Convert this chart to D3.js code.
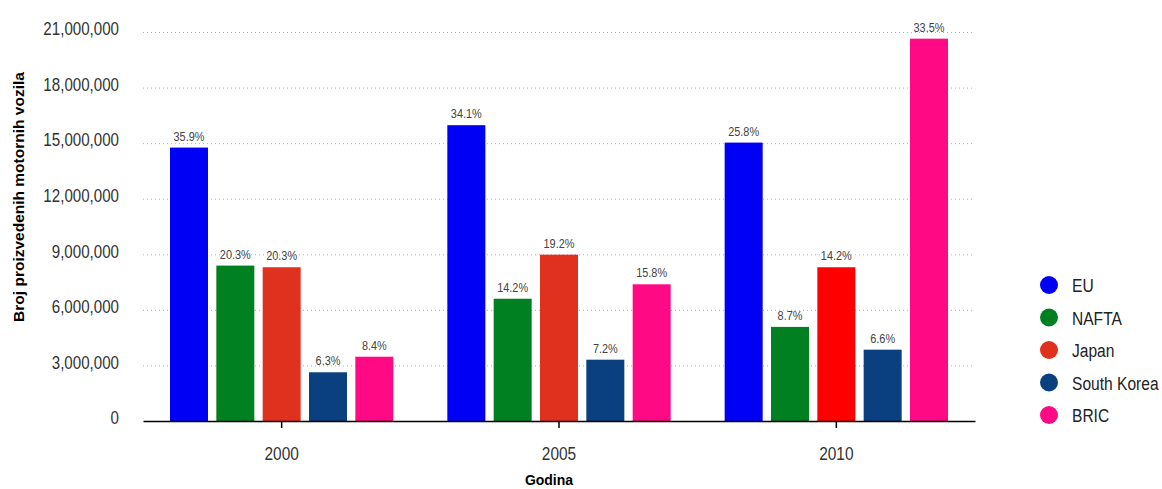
<!DOCTYPE html>
<html>
<head>
<meta charset="utf-8">
<script src="https://cdn.jsdelivr.net/npm/d3@7"></script>
<style>
  body { margin: 0; background: #fff; }
  svg { display: block; }
</style>
</head>
<body>
<svg width="1162" height="489"></svg>
<script>
'use strict';

var years = ["2000", "2005", "2010"];
var regions = ["EU", "NAFTA", "Japan", "South Korea", "BRIC"];
var colors = ["#0000f5", "#008020", "#e0301e", "#0a3f80", "#ff0a84"];

// vehicles produced, per region, per year
var valuesEU = [14760000, 15970000, 15030000];
var valuesNAFTA = [8390000, 6600000, 5080000];
var valuesJapan = [8300000, 8980000, 8300000];
var valuesKorea = [2630000, 3310000, 3850000];
var valuesBRIC = [3470000, 7380000, 20640000];

var sharesEU = ["35.9%", "34.1%", "25.8%"];
var sharesNAFTA = ["20.3%", "14.2%", "8.7%"];
var sharesJapan = ["20.3%", "19.2%", "14.2%"];
var sharesKorea = ["6.3%", "7.2%", "6.6%"];
var sharesBRIC = ["8.4%", "15.8%", "33.5%"];

var yTicks = [0, 3000000, 6000000, 9000000, 12000000, 15000000, 18000000, 21000000];

var allValues = [valuesEU, valuesNAFTA, valuesJapan, valuesKorea, valuesBRIC];
var allShares = [sharesEU, sharesNAFTA, sharesJapan, sharesKorea, sharesBRIC];

var data = [];
years.forEach(function(y, yi) {
  regions.forEach(function(r, ri) {
    data.push({ year: y, region: r, value: allValues[ri][yi], share: allShares[ri][yi] });
  });
});

var sans = "'Liberation Sans', Arial, sans-serif";

// squeeze text horizontally, the original uses a narrow face
function condense(sel, k) {
  sel.each(function() {
    var t = d3.select(this);
    var tx = +t.attr("x") || 0, ty = +t.attr("y") || 0;
    t.attr("x", 0).attr("y", 0)
      .attr("transform", "translate(" + tx + "," + ty + ") scale(" + k + ",1)");
  });
}

var margin = {top: 32, left: 143, right: 187, bottom: 68};
var svg1 = d3.select("svg"),
    width = +svg1.attr("width") - margin.left - margin.right,
    height = +svg1.attr("height") - margin.top - margin.bottom;
var svg = svg1.append("g").attr("transform", "translate(" + margin.left + "," + margin.top + ")");

var x0 = d3.scaleBand().domain(years).range([0, width]).padding(0);
var x1 = d3.scaleBand().domain(regions).range([27, x0.bandwidth() - 27]).paddingInner(0.18).paddingOuter(0);
var y = d3.scaleLinear().domain([0, 21000000]).range([height, 0]);
var color = d3.scaleOrdinal().domain(regions).range(colors);

// dotted grid
svg.append("g")
  .selectAll("line")
  .data(yTicks.slice(1))
  .enter().append("line")
  .attr("x1", 0).attr("x2", width)
  .attr("y1", function(d) { return y(d) + 0.5; })
  .attr("y2", function(d) { return y(d) + 0.5; })
  .attr("stroke", "#b0b0b0")
  .attr("stroke-width", 1)
  .attr("stroke-dasharray", "1,3");

// y labels
var yAxis = d3.axisLeft(y).tickValues(yTicks).tickSize(0).tickPadding(24)
  .tickFormat(d3.format(","));
var gy = svg.append("g")
  .attr("class", "y axis")
  .call(yAxis);
gy.select(".domain").remove();
gy.selectAll("text")
  .attr("y", -3)
  .style("font-family", sans)
  .style("font-size", "18px")
  .attr("fill", "#333")
  .call(condense, 0.84);

// bars
var groups = svg.selectAll(".yr")
  .data(years)
  .enter().append("g")
  .attr("class", "yr")
  .attr("transform", function(d) { return "translate(" + x0(d) + ",0)"; });

groups.selectAll("rect")
  .data(function(yr) { return data.filter(function(d) { return d.year === yr; }); })
  .enter().append("rect")
  .attr("x", function(d) { return x1(d.region); })
  .attr("y", function(d) { return y(d.value); })
  .attr("width", x1.bandwidth())
  .attr("height", function(d) { return height - y(d.value); })
  .attr("fill", function(d) {
    // the 2010 Japan bar is a brighter red in the original
    return (d.year === "2010" && d.region === "Japan") ? "#ff0000" : color(d.region);
  });

groups.selectAll(".lbl")
  .data(function(yr) { return data.filter(function(d) { return d.year === yr; }); })
  .enter().append("text")
  .attr("class", "lbl")
  .attr("x", function(d) { return x1(d.region) + x1.bandwidth() / 2; })
  .attr("y", function(d) { return y(d.value) - 7; })
  .attr("text-anchor", "middle")
  .style("font-family", sans)
  .style("font-size", "13px")
  .attr("fill", "#444")
  .text(function(d) { return d.share; })
  .call(condense, 0.84);

// x axis
var xAxis = d3.axisBottom(x0).tickSize(7).tickPadding(19).tickSizeOuter(0);
var gx = svg.append("g")
  .attr("class", "x axis")
  .attr("transform", "translate(0," + height + ")")
  .call(xAxis);
gx.select(".domain").attr("stroke", "#000").attr("stroke-width", 1.5);
gx.selectAll(".tick line").attr("stroke", "#000").attr("stroke-width", 1.5);
gx.selectAll("text")
  .style("font-family", sans)
  .style("font-size", "18px")
  .attr("fill", "#333")
  .call(condense, 0.86);

// axis titles
svg1.append("text")
  .attr("transform", "translate(24,197) rotate(-90)")
  .attr("text-anchor", "middle")
  .style("font-family", sans)
  .style("font-weight", "bold")
  .style("font-size", "15.5px")
  .text("Broj proizvedenih motornih vozila");

svg1.append("text")
  .attr("x", 549)
  .attr("y", 485)
  .attr("text-anchor", "middle")
  .style("font-family", sans)
  .style("font-weight", "bold")
  .style("font-size", "14px")
  .text("Godina");

// legend
var legend = svg1.append("g").attr("transform", "translate(1049,285)");
var li = legend.selectAll("g")
  .data(regions)
  .enter().append("g")
  .attr("transform", function(d, i) { return "translate(0," + (i * 32.5) + ")"; });
li.append("circle")
  .attr("r", 9)
  .attr("fill", function(d) { return color(d); });
li.append("text")
  .attr("x", 23)
  .attr("y", 7)
  .style("font-family", sans)
  .style("font-size", "19px")
  .attr("fill", "#222")
  .text(function(d) { return d; })
  .call(condense, 0.82);
</script>
</body>
</html>
